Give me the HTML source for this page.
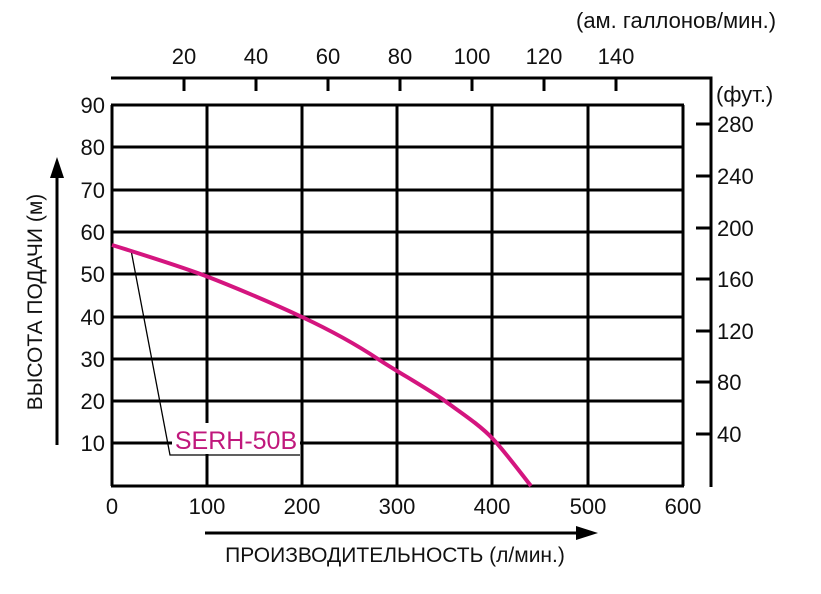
<!DOCTYPE html><html><head><meta charset="utf-8"><style>body{margin:0;background:#fff}svg{display:block}text{font-family:"Liberation Sans",sans-serif;fill:#111}</style></head><body>
<svg width="821" height="594" viewBox="0 0 821 594">
<g stroke="#000" stroke-width="3" fill="none">
<line x1="112" y1="105" x2="112" y2="486"/><line x1="207" y1="105" x2="207" y2="486"/><line x1="302" y1="105" x2="302" y2="486"/><line x1="397" y1="105" x2="397" y2="486"/><line x1="492" y1="105" x2="492" y2="486"/><line x1="588" y1="105" x2="588" y2="486"/><line x1="683" y1="105" x2="683" y2="486"/>
<line x1="111" y1="105" x2="684" y2="105"/><line x1="111" y1="147" x2="684" y2="147"/><line x1="111" y1="190" x2="684" y2="190"/><line x1="111" y1="232" x2="684" y2="232"/><line x1="111" y1="274" x2="684" y2="274"/><line x1="111" y1="317" x2="684" y2="317"/><line x1="111" y1="359" x2="684" y2="359"/><line x1="111" y1="401" x2="684" y2="401"/><line x1="111" y1="443" x2="684" y2="443"/><line x1="111" y1="486" x2="684" y2="486"/>
<polyline points="111,78 711,78 711,487"/>
<line x1="184" y1="78" x2="184" y2="91"/><line x1="256" y1="78" x2="256" y2="91"/><line x1="328" y1="78" x2="328" y2="91"/><line x1="400" y1="78" x2="400" y2="91"/><line x1="472" y1="78" x2="472" y2="91"/><line x1="544" y1="78" x2="544" y2="91"/><line x1="616" y1="78" x2="616" y2="91"/>
<line x1="696" y1="434" x2="711" y2="434"/><line x1="696" y1="382" x2="711" y2="382"/><line x1="696" y1="331" x2="711" y2="331"/><line x1="696" y1="279" x2="711" y2="279"/><line x1="696" y1="228" x2="711" y2="228"/><line x1="696" y1="176" x2="711" y2="176"/><line x1="696" y1="124" x2="711" y2="124"/>
<line x1="57" y1="445" x2="57" y2="175"/><line x1="205" y1="533" x2="580" y2="533"/>
</g>
<polygon points="57,157 50,178 64,178" fill="#000"/><polygon points="598,533 576,526 576,540" fill="#000"/>
<polyline points="131,250 170,455 300,455" stroke="#000" stroke-width="1.3" fill="none"/>
<rect x="172" y="423" width="128" height="31" fill="#fff"/>
<path d="M112,245 C160,260 185,268 207,276.5 S270,302 302,317 S360,347 378,359 S430,390 445,401 S480,425 493,439 S520,472 531,486" stroke="#d4157f" stroke-width="4" fill="none"/>
<text x="236" y="449" font-size="25" text-anchor="middle" style="fill:#c0187c">SERH-50B</text>
<g font-size="22" text-anchor="end">
<text x="105" y="113">90</text><text x="105" y="155">80</text><text x="105" y="198">70</text><text x="105" y="240">60</text><text x="105" y="282">50</text><text x="105" y="325">40</text><text x="105" y="367">30</text><text x="105" y="409">20</text><text x="105" y="451">10</text></g>
<g font-size="22" text-anchor="middle">
<text x="112" y="514">0</text><text x="207" y="514">100</text><text x="302" y="514">200</text><text x="397" y="514">300</text><text x="492" y="514">400</text><text x="588" y="514">500</text><text x="683" y="514">600</text>
<text x="184" y="64">20</text><text x="256" y="64">40</text><text x="328" y="64">60</text><text x="400" y="64">80</text><text x="472" y="64">100</text><text x="544" y="64">120</text><text x="616" y="64">140</text>
<text x="395" y="562" font-size="21">ПРОИЗВОДИТЕЛЬНОСТЬ (л/мин.)</text></g>
<g font-size="22">
<text x="717" y="442">40</text><text x="717" y="390">80</text><text x="717" y="339">120</text><text x="717" y="287">160</text><text x="717" y="236">200</text><text x="717" y="184">240</text><text x="717" y="132">280</text>
<text x="716" y="102">(фут.)</text><text x="576" y="28">(ам. галлонов/мин.)</text></g>
<text transform="translate(42,302) rotate(-90)" font-size="21" text-anchor="middle">ВЫСОТА ПОДАЧИ (м)</text>
</svg></body></html>
